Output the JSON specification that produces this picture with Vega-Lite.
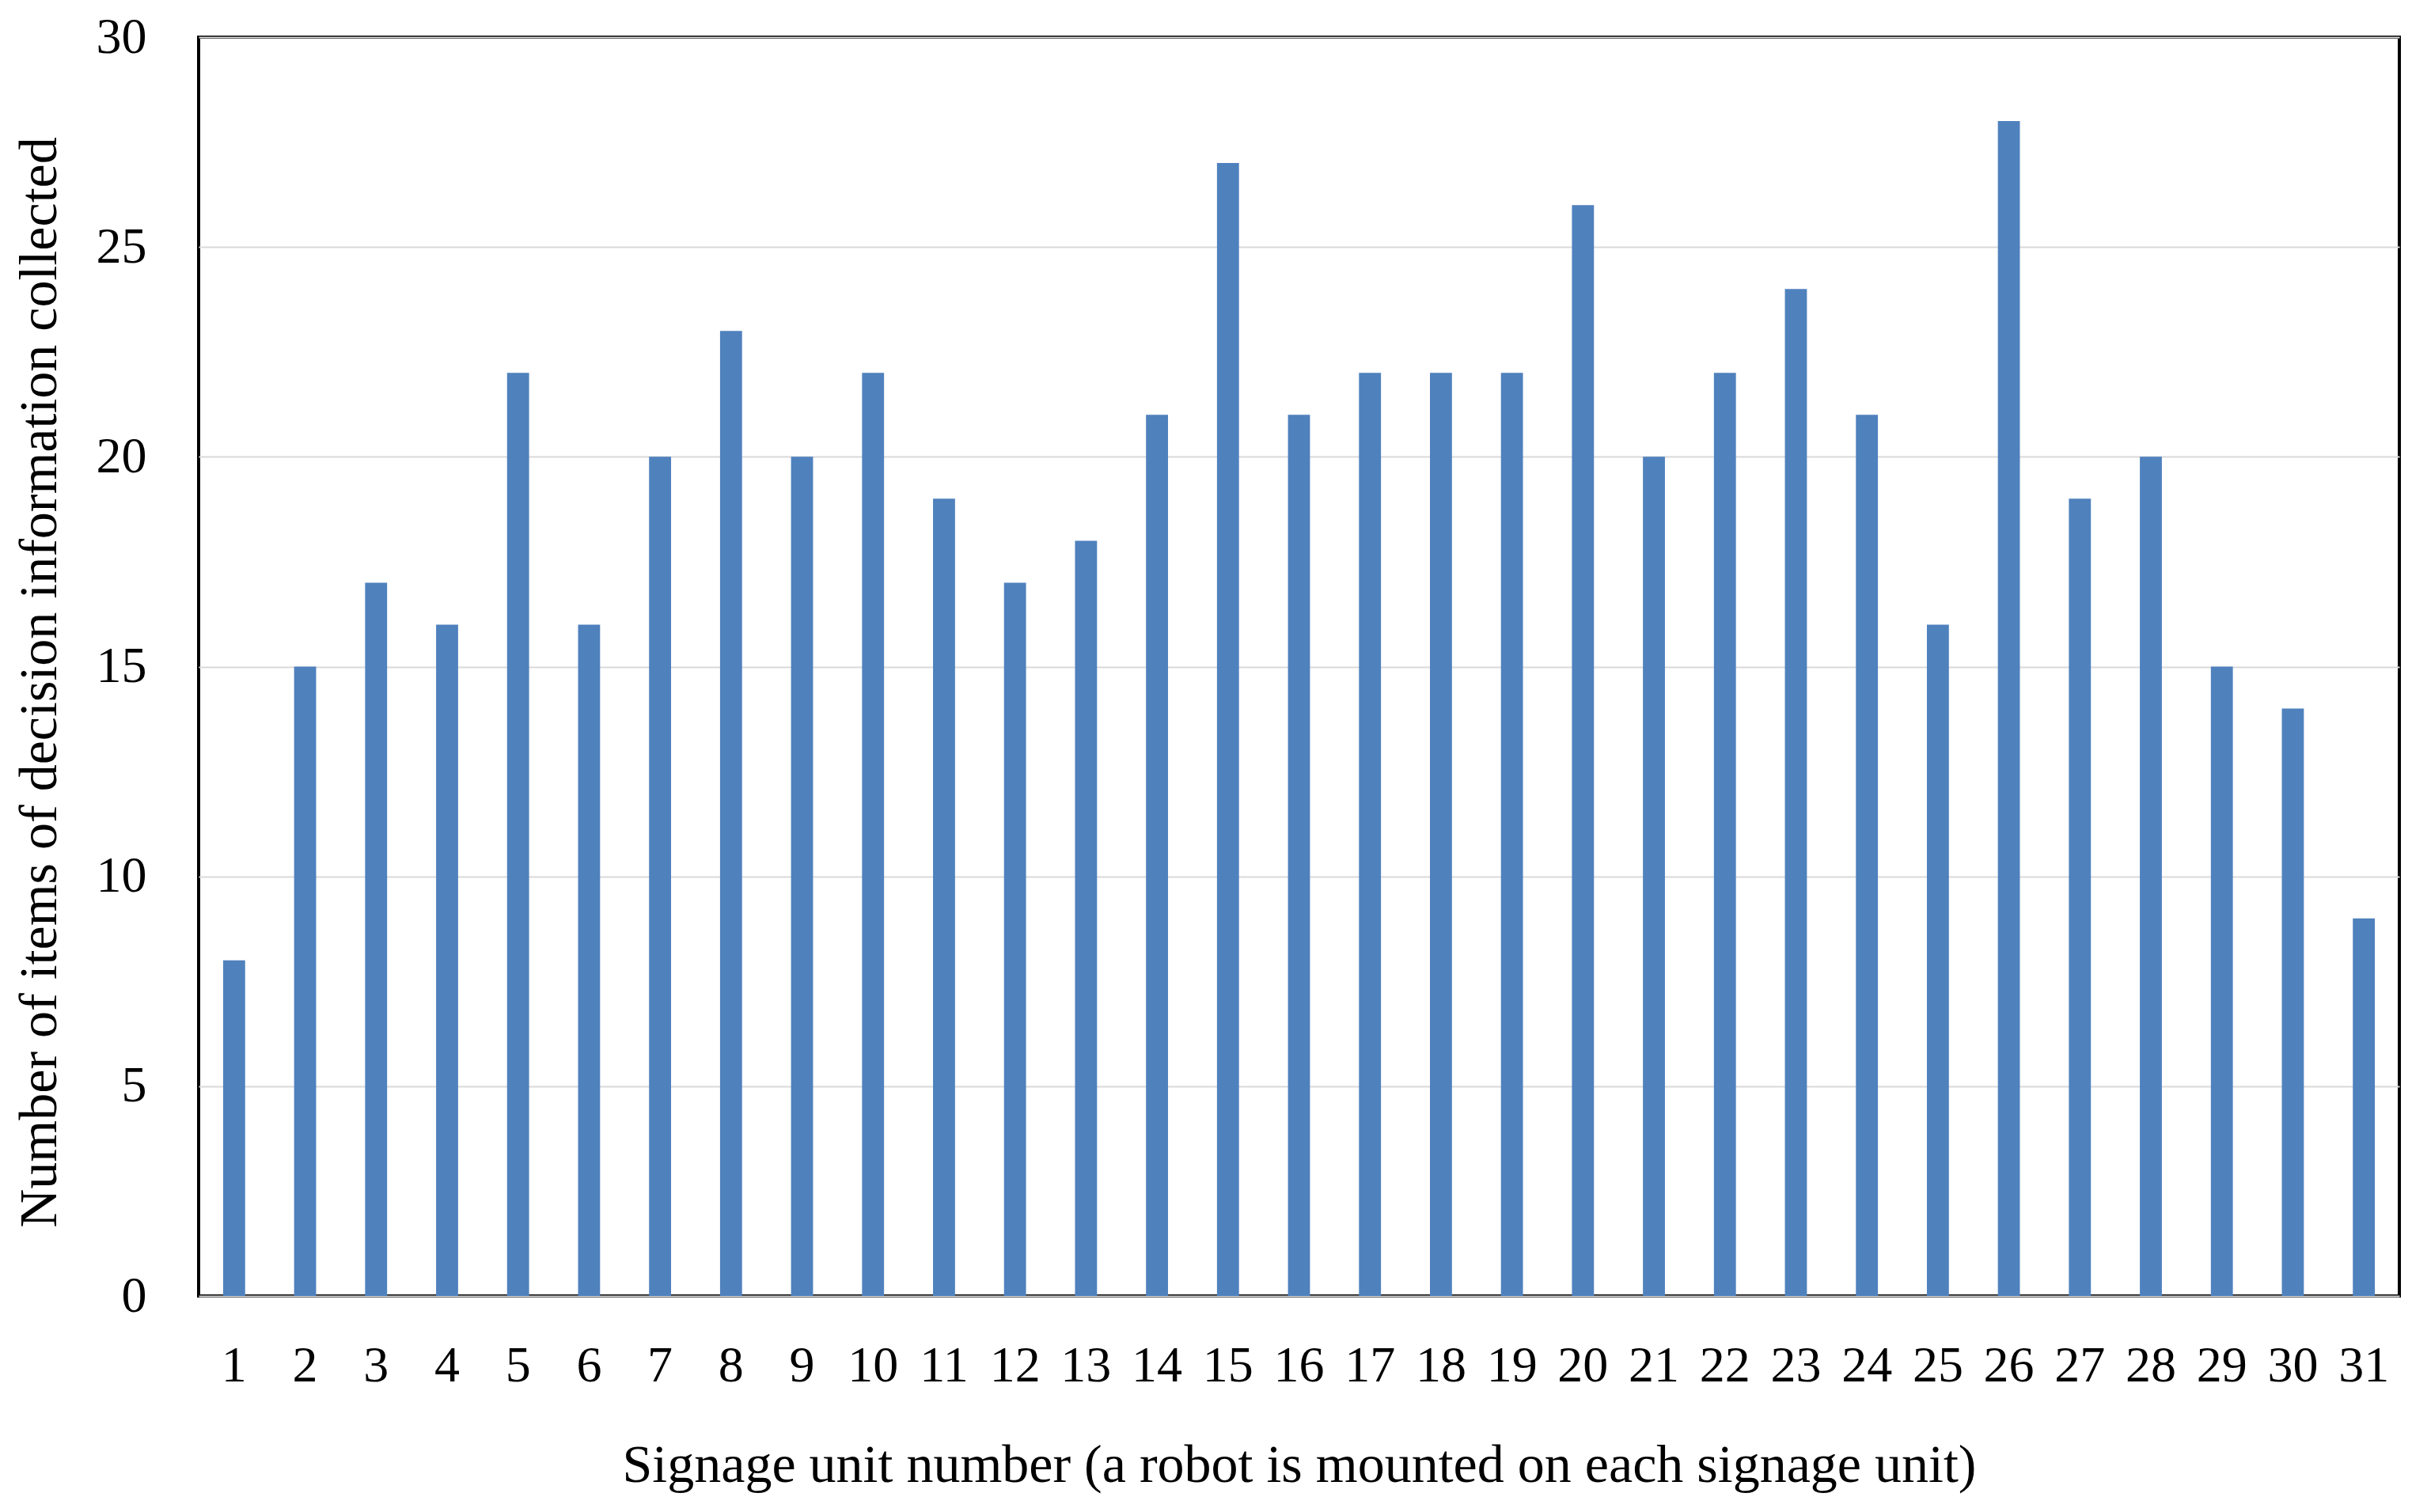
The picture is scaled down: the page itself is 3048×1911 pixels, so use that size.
{
  "$schema": "https://vega.github.io/schema/vega-lite/v6.json",
  "width": 2781,
  "height": 1591,
  "autosize": {"type": "none"},
  "padding": {"left": 251, "top": 47, "right": 16, "bottom": 273},
  "background": "white",
  "data": {
    "values": [
      {"unit": 1, "count": 8}, {"unit": 2, "count": 15}, {"unit": 3, "count": 17},
      {"unit": 4, "count": 16}, {"unit": 5, "count": 22}, {"unit": 6, "count": 16},
      {"unit": 7, "count": 20}, {"unit": 8, "count": 23}, {"unit": 9, "count": 20},
      {"unit": 10, "count": 22}, {"unit": 11, "count": 19}, {"unit": 12, "count": 17},
      {"unit": 13, "count": 18}, {"unit": 14, "count": 21}, {"unit": 15, "count": 27},
      {"unit": 16, "count": 21}, {"unit": 17, "count": 22}, {"unit": 18, "count": 22},
      {"unit": 19, "count": 22}, {"unit": 20, "count": 26}, {"unit": 21, "count": 20},
      {"unit": 22, "count": 22}, {"unit": 23, "count": 24}, {"unit": 24, "count": 21},
      {"unit": 25, "count": 16}, {"unit": 26, "count": 28}, {"unit": 27, "count": 19},
      {"unit": 28, "count": 20}, {"unit": 29, "count": 15}, {"unit": 30, "count": 14},
      {"unit": 31, "count": 9}
    ]
  },
  "mark": {"type": "bar", "color": "#4F81BD"},
  "encoding": {
    "x": {
      "field": "unit",
      "type": "ordinal",
      "scale": {"paddingInner": 0.69, "paddingOuter": 0.345},
      "axis": {
        "title": "Signage unit number (a robot is mounted on each signage unit)",
        "labelAngle": 0,
        "ticks": false,
        "domain": false,
        "labelPadding": 56,
        "labelFont": "Liberation Serif",
        "labelFontSize": 64,
        "labelColor": "#000000",
        "titleFont": "Liberation Serif",
        "titleFontSize": 68,
        "titleFontWeight": "normal",
        "titleColor": "#000000",
        "titleBaseline": "alphabetic",
        "titleY": 234
      }
    },
    "y": {
      "field": "count",
      "type": "quantitative",
      "scale": {"domain": [0, 30], "nice": false},
      "axis": {
        "title": "Number of items of decision information collected",
        "values": [0, 5, 10, 15, 20, 25, 30],
        "ticks": false,
        "domain": false,
        "grid": true,
        "gridColor": "#d9d9d9",
        "gridWidth": 2,
        "labelPadding": 66,
        "labelFont": "Liberation Serif",
        "labelFontSize": 64,
        "labelColor": "#000000",
        "titleFont": "Liberation Serif",
        "titleFontSize": 68,
        "titleFontWeight": "normal",
        "titleColor": "#000000",
        "titleBaseline": "alphabetic",
        "titleAngle": -90,
        "titleX": -181,
        "titleY": 815
      }
    }
  },
  "config": {
    "view": {"stroke": "#000000", "strokeWidth": 4}
  }
}
